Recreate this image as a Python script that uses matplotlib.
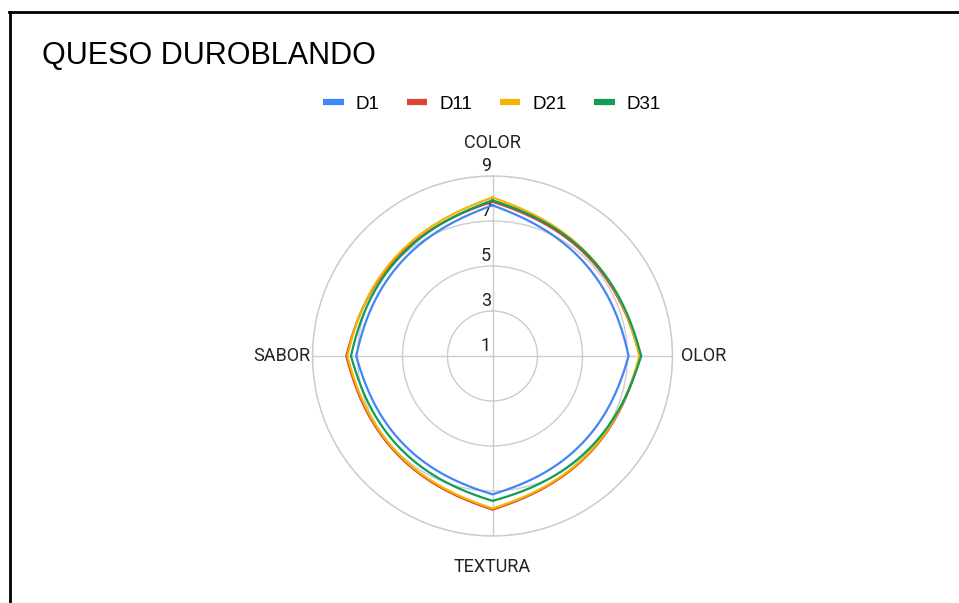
import numpy as np
import matplotlib
matplotlib.use("Agg")
import matplotlib.pyplot as plt
from matplotlib.lines import Line2D

# ── Data ───────────────────────────────────────────────
categories = ["COLOR", "OLOR", "TEXTURA", "SABOR"]
series_names = ["D1", "D11", "D21", "D31"]
d1 = [7.7, 7.05, 7.15, 7.06]
d11 = [7.86, 7.55, 7.83, 7.5]
d21 = [8.05, 7.53, 7.78, 7.45]
d31 = [7.92, 7.61, 7.44, 7.29]
colors = ["#4285F4", "#DB4437", "#F4B400", "#0F9D58"]
r_ticks = [1, 3, 5, 7, 9]
r_min = 1

# ── Figure ─────────────────────────────────────────────
W, H = 959, 603
fig = plt.figure(figsize=(W / 100, H / 100), dpi=100)

# black frame (top + left only)
fig.add_artist(Line2D([9 / W, 1], [1 - 12 / H, 1 - 12 / H], color="black", lw=2))
fig.add_artist(Line2D([10 / W, 10 / W], [0, 1 - 12 / H], color="black", lw=2))

fig.text(42 / W, 1 - 56 / H, "QUESO DUROBLANDO", fontsize=22,
         family="Liberation Sans", va="center", ha="left")

# polar axes: centre (492.5, 356), radius 180 px
cx, cy, R = 492.5, 356, 180
ax = fig.add_axes([(cx - R) / W, (H - cy - R) / H, 2 * R / W, 2 * R / H],
                  projection="polar")
ax.set_theta_zero_location("N")
ax.set_theta_direction(-1)
ax.set_ylim(r_min, 9)

n = len(categories)
angles = np.arange(n) * 2 * np.pi / n
ax.set_xticks(angles)
ax.set_xticklabels([])
ax.set_yticks(r_ticks)
ax.set_yticklabels([])
ax.grid(True, color="#cccccc", lw=1.0)
ax.spines["polar"].set_color("#cccccc")
ax.spines["polar"].set_linewidth(1.0)
ax.tick_params(length=0)


# sides between categories: somewhere between a straight chord and an arc,
# with pointed corners at the category spokes (like the sheets radar)
def side(t1, t2, v1, v2, steps=60, alpha=0.7):
    a = v1 - r_min
    b = v2 - r_min
    th = np.linspace(t1, t2, steps)
    lin = a + (b - a) * (th - t1) / (t2 - t1)
    chord = a * b * np.sin(t2 - t1) / (a * np.sin(th - t1) + b * np.sin(t2 - th))
    return th, r_min + alpha * lin + (1 - alpha) * chord


for vals, name, c in zip([d1, d11, d21, d31], series_names, colors):
    th_all, r_all = [], []
    for i in range(n):
        j = (i + 1) % n
        th, rr = side(angles[i], angles[i] + 2 * np.pi / n, vals[i], vals[j])
        th_all.append(th)
        r_all.append(rr)
    ax.plot(np.concatenate(th_all), np.concatenate(r_all), color=c, lw=1.6,
            label=name, zorder=3)

# radial tick labels along the top spoke
for t in r_ticks:
    ax.annotate(str(t), xy=(0, t), xytext=(-1, 7.5), textcoords="offset points",
                ha="right", va="center", fontsize=13, family="Roboto",
                color="#222222", zorder=2, annotation_clip=False)

# category labels
ax.text(0, 1 + 213 / 22.5, "COLOR", ha="center", va="center",
        fontsize=13, family="Roboto", color="#222222")
ax.text(np.pi / 2, 1 + 188 / 22.5, "OLOR", ha="left", va="center",
        fontsize=13, family="Roboto", color="#222222")
ax.text(np.pi, 1 + 211 / 22.5, "TEXTURA", ha="center", va="center",
        fontsize=13, family="Roboto", color="#222222")
ax.text(3 * np.pi / 2, 1 + 182 / 22.5, "SABOR", ha="right", va="center",
        fontsize=13, family="Roboto", color="#222222")

handles = [Line2D([], [], color=c, lw=4.5, solid_capstyle="butt") for c in colors]
fig.legend(handles, series_names, loc="center", bbox_to_anchor=(492 / W, 1 - 104 / H),
           ncol=4, frameon=False, handlelength=1.1, handletextpad=0.65,
           columnspacing=1.45, prop={"family": "Liberation Sans", "size": 13.5})

fig.savefig("out.png", dpi=100)
